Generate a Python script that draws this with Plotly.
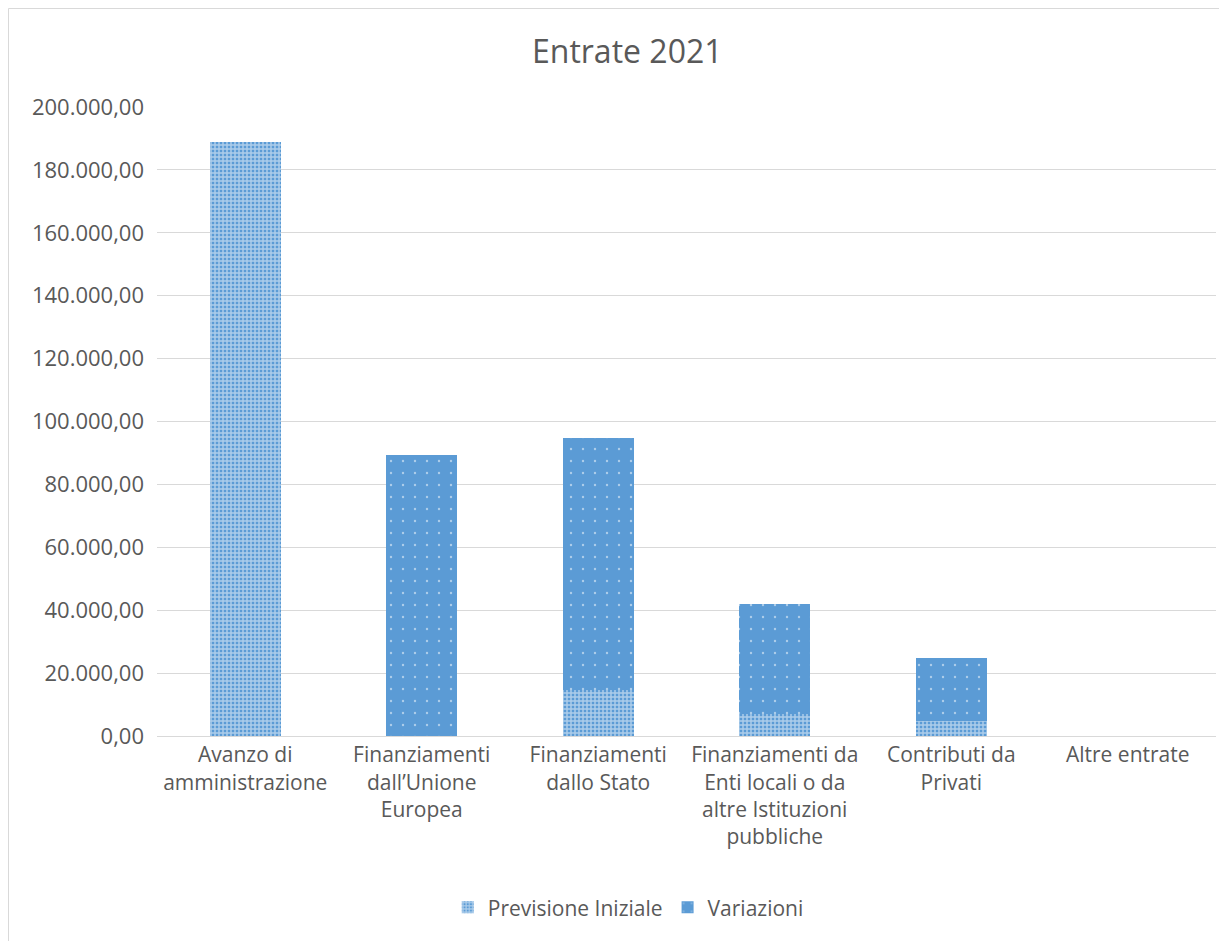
import plotly.graph_objects as go

categories = [
    "Avanzo di<br>amministrazione",
    "Finanziamenti<br>dall’Unione<br>Europea",
    "Finanziamenti<br>dallo Stato",
    "Finanziamenti da<br>Enti locali o da<br>altre Istituzioni<br>pubbliche",
    "Contributi da<br>Privati",
    "Altre entrate",
]
previsione_iniziale = [188900, 0, 14600, 7000, 4800, 0]
variazioni = [0, 89300, 80200, 35000, 20000, 0]
y_ticks = list(range(0, 200001, 20000))

BLUE = "#5B9BD5"
TXT = "#595959"
FONT = "Open Sans"

W, H = 1219, 933
L, R, T, B = 149, 11, 99, 205
PW = W - L - R
PH = H - T - B

fig = go.Figure()
fig.add_trace(go.Bar(
    name="Previsione Iniziale", x=categories, y=previsione_iniziale,
    marker=dict(color=BLUE, line=dict(width=0),
                pattern=dict(shape="+", fgcolor="white", bgcolor=BLUE, size=4, solidity=0.6)),
))
fig.add_trace(go.Bar(
    name="Variazioni", x=categories, y=variazioni,
    marker=dict(color=BLUE, line=dict(width=0),
                pattern=dict(shape=".", fgcolor="white", bgcolor=BLUE, size=12, solidity=0.03)),
))

fig.update_layout(
    barmode="stack",
    bargap=0.6,
    width=W, height=H,
    margin=dict(l=L, r=R, t=T, b=B),
    paper_bgcolor="white", plot_bgcolor="white",
    separators=",.",
    font=dict(family=FONT, color=TXT, size=21),
    title=dict(text="Entrate 2021", x=0.508, xanchor="center", y=0.953, yanchor="middle",
               font=dict(size=32, color=TXT, family=FONT)),
    legend=dict(orientation="h", x=0.445, xanchor="center", y=-0.273, yanchor="middle",
                font=dict(size=21, color=TXT), traceorder="normal", itemwidth=30),
    xaxis=dict(showgrid=False, showline=True, linecolor="#D9D9D9", linewidth=1,
               tickfont=dict(size=21, color=TXT), ticks=""),
    yaxis=dict(range=[0, 200000], tickvals=y_ticks, tickformat=",.2f",
               showgrid=True, gridcolor="#D9D9D9", gridwidth=1, zeroline=False,
               showline=False, tickfont=dict(size=22, color=TXT), ticks="",
               ticklabelstandoff=12),
    shapes=[dict(type="rect", xref="paper", yref="paper",
                 x0=(0.5 - L) / PW, x1=(W + 20 - L) / PW,
                 y0=(-20 - (H - B)) / PH, y1=(H - B - 0.5) / PH,
                 line=dict(color="#D9D9D9", width=1), fillcolor="rgba(0,0,0,0)", layer="below")],
)

fig.write_html("out.html")
